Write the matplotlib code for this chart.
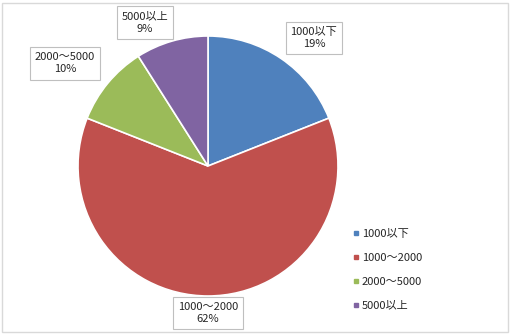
import matplotlib
matplotlib.use("Agg")
import matplotlib.pyplot as plt
from matplotlib.lines import Line2D
from matplotlib.patches import Rectangle

plt.rcParams['font.family'] = ['Noto Sans CJK JP', 'DejaVu Sans']

labels = ["1000以下", "1000～2000", "2000～5000", "5000以上"]
shares = [19, 62, 10, 9]
colors = ["#4F81BD", "#C0504D", "#9BBB59", "#8064A2"]

# label box centres in axes data units (radius = 1)
label_pos = [(0.815, 0.985), (0.0, -1.13), (-1.10, 0.79), (-0.485, 1.105)]

fig = plt.figure(figsize=(5.11, 3.35), dpi=100)
ax = fig.add_axes([78 / 511, 39 / 335, 260 / 511, 260 / 335])

wedges, _ = ax.pie(shares, colors=colors, startangle=90, counterclock=False,
                   radius=1.0, wedgeprops=dict(edgecolor="white", linewidth=1.2))
ax.set_xlim(-1, 1)
ax.set_ylim(-1, 1)
ax.set_aspect("auto")
ax.axis("off")

for lab, val, (x, y) in zip(labels, shares, label_pos):
    ax.text(x, y, f"{lab}\n{val}%", ha="center", va="center", fontsize=8,
            color="#262626", linespacing=1.3, clip_on=False,
            bbox=dict(boxstyle="square,pad=0.45", fc="white", ec="#BFBFBF", lw=0.8))

handles = [Line2D([], [], marker="s", linestyle="none", markersize=3.5,
                  markerfacecolor=c, markeredgecolor=c) for c in colors]
fig.legend(handles, labels, loc="upper left", bbox_to_anchor=(343 / 511, 1 - 219 / 335),
           frameon=False, fontsize=8, labelspacing=1.25, handlelength=0.6,
           handletextpad=0.2, labelcolor="#262626")

fig.patches.append(Rectangle((2 / 511, 3 / 335), 506 / 511, 329 / 335,
                             transform=fig.transFigure, fill=False,
                             edgecolor="#D9D9D9", linewidth=1.0))

fig.savefig("out.png", dpi=100)
